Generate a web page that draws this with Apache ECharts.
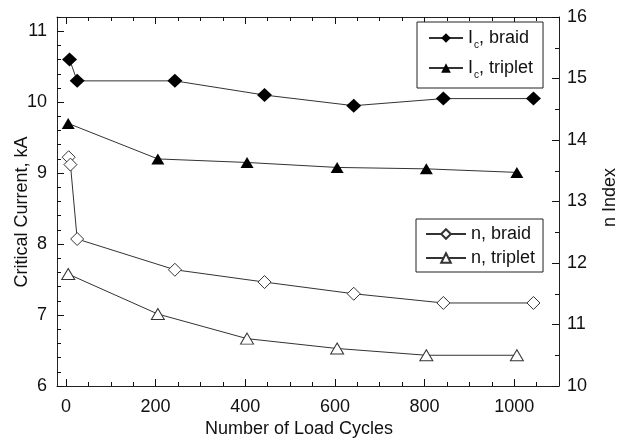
<!DOCTYPE html>
<html>
<head>
<meta charset="utf-8">
<script src="https://cdn.jsdelivr.net/npm/echarts@6/dist/echarts.min.js"></script>
<style>
html,body{margin:0;padding:0;background:#fff;}
#chart{width:627px;height:443px;}
</style>
</head>
<body>
<div id="chart"></div>
<script>
// ---- data ----
var icBraidX = [8, 25, 243, 443, 642, 842, 1043];
var icBraidY = [10.6, 10.3, 10.3, 10.1, 9.95, 10.05, 10.05];
var icTripletX = [5, 205, 404, 605, 804, 1006];
var icTripletY = [9.7, 9.2, 9.15, 9.08, 9.06, 9.01];
var nBraidX = [6, 10, 25, 243, 443, 642, 842, 1043];
var nBraidY = [13.72, 13.6, 12.39, 11.89, 11.69, 11.5, 11.35, 11.35];
var nTripletX = [5, 205, 404, 605, 804, 1006];
var nTripletY = [11.82, 11.17, 10.77, 10.61, 10.5, 10.5];

var xMajor = [0, 200, 400, 600, 800, 1000];
var xMinor = [50, 100, 150, 250, 300, 350, 450, 500, 550, 650, 700, 750, 850, 900, 950, 1050, 1100];
var yLeftMajor = [6, 7, 8, 9, 10, 11];
var yLeftMinor = [6.2, 6.4, 6.6, 6.8, 7.2, 7.4, 7.6, 7.8, 8.2, 8.4, 8.6, 8.8, 9.2, 9.4, 9.6, 9.8, 10.2, 10.4, 10.6, 10.8, 11.2];

function pairs(xs, ys) { return xs.map(function (x, i) { return [x, ys[i]]; }); }

var FONT = 'Liberation Sans, Arial, sans-serif';
var TXT = '#111';
var AX = '#222';
var TK = '#111';
function plain(v) { return String(v); }

var chart = echarts.init(document.getElementById('chart'));

function xAx(pos, ticks, len, showLine, showLabel) {
  return {
    type: 'value', position: pos, min: -20, max: 1100,
    splitLine: {show: false},
    axisLine: {show: showLine, onZero: false, lineStyle: {color: AX, width: 1}},
    axisTick: {show: true, inside: true, length: len, customValues: ticks, lineStyle: {color: TK, width: 1}},
    axisLabel: {show: showLabel, customValues: ticks, formatter: plain, fontSize: 18, fontFamily: FONT, color: TXT, margin: 12}
  };
}

var xAxes = [
  xAx('bottom', xMajor, 7, true, true),
  xAx('bottom', xMinor, 4, false, false),
  xAx('top', xMajor, 7, true, false),
  xAx('top', xMinor, 4, false, false)
];
xAxes[0].name = 'Number of Load Cycles';
xAxes[0].nameLocation = 'middle';
xAxes[0].nameGap = 34;
xAxes[0].nameMoveOverlap = false;
xAxes[0].nameTextStyle = {fontSize: 18, fontFamily: FONT, color: TXT, padding: [0, 18, 0, 0]};

var yAxes = [
  {
    type: 'value', position: 'left', min: 6, max: 11.2,
    splitLine: {show: false},
    axisLine: {show: true, onZero: false, lineStyle: {color: AX, width: 1}},
    axisTick: {show: true, inside: true, length: 7, customValues: yLeftMajor, lineStyle: {color: TK, width: 1}},
    axisLabel: {customValues: yLeftMajor, formatter: plain, fontSize: 18, fontFamily: FONT, color: TXT, margin: 10},
    name: 'Critical Current, kA', nameLocation: 'middle', nameGap: 26, nameMoveOverlap: false,
    nameTextStyle: {fontSize: 18, fontFamily: FONT, color: TXT, padding: [0, 21, 0, 0]}
  },
  {
    type: 'value', position: 'right', min: 10, max: 16, interval: 1,
    splitLine: {show: false},
    axisLine: {show: true, onZero: false, lineStyle: {color: AX, width: 1}},
    axisTick: {show: true, inside: true, length: 7, lineStyle: {color: TK, width: 1}},
    minorTick: {show: true, splitNumber: 2, length: 4, lineStyle: {color: TK, width: 1}},
    axisLabel: {formatter: plain, fontSize: 18, fontFamily: FONT, color: TXT, margin: 8},
    name: 'n Index', nameLocation: 'middle', nameGap: 42, nameMoveOverlap: false,
    nameTextStyle: {fontSize: 18, fontFamily: FONT, color: TXT, padding: [0, 0, 0, 8]}
  },
  {
    type: 'value', position: 'left', min: 6, max: 11.2,
    splitLine: {show: false},
    axisLine: {show: false, onZero: false},
    axisTick: {show: true, inside: true, length: 4, customValues: yLeftMinor, lineStyle: {color: TK, width: 1}},
    axisLabel: {show: false}
  }
];

var rich = {
  a: {fontSize: 18, fontFamily: FONT, color: TXT},
  s: {fontSize: 10, fontFamily: FONT, color: TXT, verticalAlign: 'bottom', padding: [14, 0, 0, 1]}
};
function legFmt(name) {
  if (name.indexOf('Ic') === 0) return '{a|I}{s|c}{a|' + name.slice(2) + '}';
  return '{a|' + name + '}';
}

function lineSeries(name, xs, ys, yIdx, symbol, size, filled) {
  return {
    name: name, type: 'line', xAxisIndex: 0, yAxisIndex: yIdx,
    data: pairs(xs, ys),
    symbol: symbol, symbolSize: size, showSymbol: true,
    lineStyle: {color: '#333', width: 1},
    itemStyle: filled ? {color: '#000', borderColor: '#000', borderWidth: 0}
                      : {color: '#fff', borderColor: '#333', borderWidth: 1},
    emphasis: {disabled: true},
    z: 3
  };
}

chart.setOption({
  animation: false,
  backgroundColor: '#fff',
  grid: {left: 57, top: 17, width: 502, height: 369, outerBoundsMode: 'none'},
  xAxis: xAxes,
  yAxis: yAxes,
  legend: [
    {
      data: ['Ic, braid', 'Ic, triplet'], orient: 'vertical', left: 417, top: 22,
      padding: [7, 10, 8, 11], itemGap: 9, itemWidth: 34, itemHeight: 12,
      borderColor: '#222', borderWidth: 1, backgroundColor: '#fff',
      formatter: legFmt, textStyle: {rich: rich, fontSize: 18, fontFamily: FONT, color: TXT},
      selectedMode: false
    },
    {
      data: ['n, braid', 'n, triplet'], orient: 'vertical', left: 416, top: 219,
      padding: [6, 8, 5, 9], itemGap: 6, itemWidth: 40, itemHeight: 12,
      borderColor: '#222', borderWidth: 1, backgroundColor: '#fff',
      formatter: legFmt, textStyle: {rich: rich, fontSize: 18, fontFamily: FONT, color: TXT},
      selectedMode: false
    }
  ],
  series: [
    lineSeries('Ic, braid', icBraidX, icBraidY, 0, 'diamond', [15, 14], true),
    lineSeries('Ic, triplet', icTripletX, icTripletY, 0, 'triangle', [13, 11], true),
    lineSeries('n, braid', nBraidX, nBraidY, 1, 'diamond', [13, 13], false),
    lineSeries('n, triplet', nTripletX, nTripletY, 1, 'triangle', [13, 11], false)
  ]
});
</script>
</body>
</html>
